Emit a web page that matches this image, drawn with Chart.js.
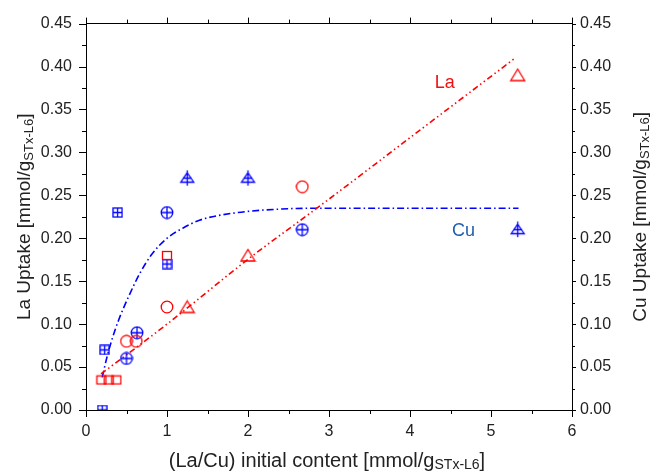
<!DOCTYPE html>
<html><head><meta charset="utf-8">
<script src="https://cdn.jsdelivr.net/npm/chart.js@4/dist/chart.umd.min.js"></script>
<style>html,body{margin:0;padding:0;background:#fff}</style>
</head><body>
<canvas id="c" width="654" height="473"></canvas>
<script>
// ---- data ----
const laSquareX = [0.19, 0.28, 0.375, 1.0];
const laSquareY = [0.035, 0.035, 0.035, 0.18];
const laCircleX = [0.5, 0.62, 1.0, 2.67];
const laCircleY = [0.08, 0.08, 0.12, 0.26];
const laTriX = [1.25, 2.0, 5.33];
const laTriY = [0.12, 0.18, 0.39];
const cuSquareX = [0.2, 0.23, 0.39, 1.0];
const cuSquareY = [0.0, 0.07, 0.23, 0.17];
const cuCircleX = [0.5, 0.63, 1.0, 2.67];
const cuCircleY = [0.06, 0.09, 0.23, 0.21];
const cuTriX = [1.25, 2.0, 5.33];
const cuTriY = [0.27, 0.27, 0.21];
// fitted curves, points
const laFitX = [0.185, 1.0, 2.02, 2.85, 4.04, 5.3];
const laFitY = [0.042, 0.100, 0.177, 0.235, 0.320, 0.41];
const cuFitX = [0.2, 0.26, 0.32, 0.4, 0.54, 0.67, 0.81, 1.0, 1.2, 1.4, 1.8, 2.4, 3.0, 5.34];
const cuFitY = [0.038, 0.062, 0.082, 0.104, 0.135, 0.160, 0.181, 0.200, 0.212, 0.221, 0.229, 0.234, 0.235, 0.235];
const xTicks = [0, 1, 2, 3, 4, 5, 6];
const yTicks = [0, 0.05, 0.10, 0.15, 0.20, 0.25, 0.30, 0.35, 0.40, 0.45];

const RED = '#ff0000', BLUE = '#0000ff';
const pts = (xs, ys) => xs.map((x, i) => ({x, y: ys[i]}));

function mk(w, h, color, draw) {
  const c = document.createElement('canvas'); c.width = w; c.height = h;
  const g = c.getContext('2d'); g.strokeStyle = color; g.lineWidth = 1.3; draw(g); return c;
}
const mSquareR = mk(12, 11, RED, g => g.strokeRect(1.5, 1.5, 9, 8));
const mCircleR = mk(14, 14, RED, g => { g.beginPath(); g.arc(7, 7, 5.8, 0, 2*Math.PI); g.stroke(); });
const mTriR = mk(17, 15, RED, g => { g.beginPath(); g.moveTo(8.5, 1.5); g.lineTo(15.5, 13); g.lineTo(1.5, 13); g.closePath(); g.stroke(); });
const mSquareB = mk(11, 11, BLUE, g => { g.strokeRect(1, 1, 9, 9); g.beginPath(); g.moveTo(5.5, 1); g.lineTo(5.5, 10); g.moveTo(1, 5.5); g.lineTo(10, 5.5); g.stroke(); });
const mCircleB = mk(14, 14, BLUE, g => { g.beginPath(); g.arc(7, 7, 5.8, 0, 2*Math.PI); g.moveTo(7, 1.2); g.lineTo(7, 12.8); g.moveTo(1.2, 7); g.lineTo(12.8, 7); g.stroke(); });
const mTriB = mk(17, 17, BLUE, g => { g.beginPath(); g.moveTo(8.5, 3); g.lineTo(15, 12.5); g.lineTo(2, 12.5); g.closePath();
  g.moveTo(8.5, 0.5); g.lineTo(8.5, 16); g.moveTo(4, 8.5); g.lineTo(13, 8.5); g.stroke(); });

const marker = (label, data, style) => ({label, data, type: 'scatter', showLine: false, pointStyle: style, pointRadius: 6, pointHoverRadius: 6, order: 1});
const fit = (label, data, color, dash) => ({label, data, type: 'line', showLine: true, borderColor: color, borderWidth: 1.6, borderDash: dash, pointRadius: 0, fill: false, tension: 0.4, cubicInterpolationMode: 'monotone', order: 2});

const FONT = "'Liberation Sans', Arial, sans-serif";
const TXT = '#222';

function richWidth(ctx, parts) {
  let w = 0; for (const p of parts) { ctx.font = p.size + 'px ' + FONT; w += ctx.measureText(p.t).width; } return w;
}
function drawRich(ctx, parts, cx, cy, rot, color) {
  ctx.save(); ctx.translate(cx, cy); ctx.rotate(rot); ctx.fillStyle = color; ctx.textBaseline = 'middle'; ctx.textAlign = 'left';
  let x = -richWidth(ctx, parts) / 2;
  for (const p of parts) { ctx.font = p.size + 'px ' + FONT; ctx.fillText(p.t, x, p.dy || 0); x += ctx.measureText(p.t).width; }
  ctx.restore();
}

const extras = {
  id: 'extras',
  afterDraw(chart) {
    const ctx = chart.ctx, a = chart.chartArea, sx = chart.scales.x, sy = chart.scales.y;
    ctx.save(); ctx.strokeStyle = '#000'; ctx.lineWidth = 1;
    for (let i = 0; i <= 12; i++) {
      const v = i * 0.5, px = Math.round(sx.getPixelForValue(v)) + 0.5, major = i % 2 === 0;
      ctx.beginPath(); ctx.moveTo(px, a.bottom); ctx.lineTo(px, a.bottom + (major ? 7 : 4));
      ctx.moveTo(px, a.top); ctx.lineTo(px, a.top - (major ? 6 : 4)); ctx.stroke();
    }
    for (let i = 0; i <= 18; i++) {
      const v = i * 0.025, py = Math.round(sy.getPixelForValue(v)) + 0.5, major = i % 2 === 0;
      ctx.beginPath(); ctx.moveTo(a.left, py); ctx.lineTo(a.left - (major ? 7 : 4), py);
      ctx.moveTo(a.right, py); ctx.lineTo(a.right + (major ? 4 : 3), py); ctx.stroke();
    }
    ctx.restore();
    drawRich(ctx, [{t: '(La/Cu) initial content [mmol/g', size: 20}, {t: 'STx-L6', size: 14, dy: 4}, {t: ']', size: 20}], 327, 461, 0, TXT);
    drawRich(ctx, [{t: 'La Uptake [mmol/g', size: 19}, {t: 'STx-L6', size: 13, dy: 4}, {t: ']', size: 19}], 25, (a.top + a.bottom) / 2, -Math.PI / 2, TXT);
    drawRich(ctx, [{t: 'Cu Uptake [mmol/g', size: 19}, {t: 'STx-L6', size: 13, dy: 4}, {t: ']', size: 19}], 641, (a.top + a.bottom) / 2, -Math.PI / 2, TXT);
    ctx.save(); ctx.font = '18px ' + FONT; ctx.textAlign = 'center'; ctx.textBaseline = 'middle';
    ctx.fillStyle = '#ee1111'; ctx.fillText('La', sx.getPixelForValue(4.43), sy.getPixelForValue(0.381));
    ctx.fillStyle = '#1f5fae'; ctx.fillText('Cu', sx.getPixelForValue(4.66), sy.getPixelForValue(0.208));
    ctx.restore();
  }
};

const tickFont = {family: FONT, size: 16};
new Chart(document.getElementById('c'), {
  type: 'scatter',
  data: {datasets: [
    fit('La fit', pts(laFitX, laFitY), RED, [6, 3, 1.5, 3, 1.5, 3]),
    fit('Cu fit', pts(cuFitX, cuFitY), BLUE, [7, 3, 1.5, 3]),
    marker('La sq', pts(laSquareX, laSquareY), mSquareR),
    marker('La ci', pts(laCircleX, laCircleY), mCircleR),
    marker('La tr', pts(laTriX, laTriY), mTriR),
    marker('Cu sq', pts(cuSquareX, cuSquareY), mSquareB),
    marker('Cu ci', pts(cuCircleX, cuCircleY), mCircleB),
    marker('Cu tr', pts(cuTriX, cuTriY), mTriB),
  ]},
  options: {
    responsive: false, animation: false, devicePixelRatio: 1,
    layout: {padding: 0},
    plugins: {legend: {display: false}, tooltip: {enabled: false}},
    scales: {
      x: {type: 'linear', position: 'bottom', min: 0, max: 6,
        afterBuildTicks: s => { s.ticks = xTicks.map(v => ({value: v})); },
        ticks: {font: tickFont, color: TXT, padding: 12, maxRotation: 0, callback: v => String(v)},
        grid: {display: false, drawTicks: false, tickLength: 0}, border: {display: true, color: '#000', width: 1},
        afterFit: s => { s.height = 63; }},
      x2: {type: 'linear', position: 'top', min: 0, max: 6,
        ticks: {display: false}, grid: {display: false, drawTicks: false, tickLength: 0}, border: {display: true, color: '#000', width: 1},
        afterFit: s => { s.height = 21; }},
      y: {type: 'linear', position: 'left', min: 0, max: 0.45,
        afterBuildTicks: s => { s.ticks = yTicks.map(v => ({value: v})); },
        ticks: {font: tickFont, color: TXT, padding: 14, callback: v => v.toFixed(2)},
        grid: {display: false, drawTicks: false, tickLength: 0}, border: {display: true, color: '#000', width: 1},
        afterFit: s => { s.width = 86; }},
      y2: {type: 'linear', position: 'right', min: 0, max: 0.45,
        afterBuildTicks: s => { s.ticks = yTicks.map(v => ({value: v})); },
        ticks: {font: tickFont, color: TXT, padding: 8, callback: v => v.toFixed(2)},
        grid: {display: false, drawTicks: false, tickLength: 0}, border: {display: true, color: '#000', width: 1},
        afterFit: s => { s.width = 82; }}
    }
  },
  plugins: [extras]
});
</script>
</body></html>
